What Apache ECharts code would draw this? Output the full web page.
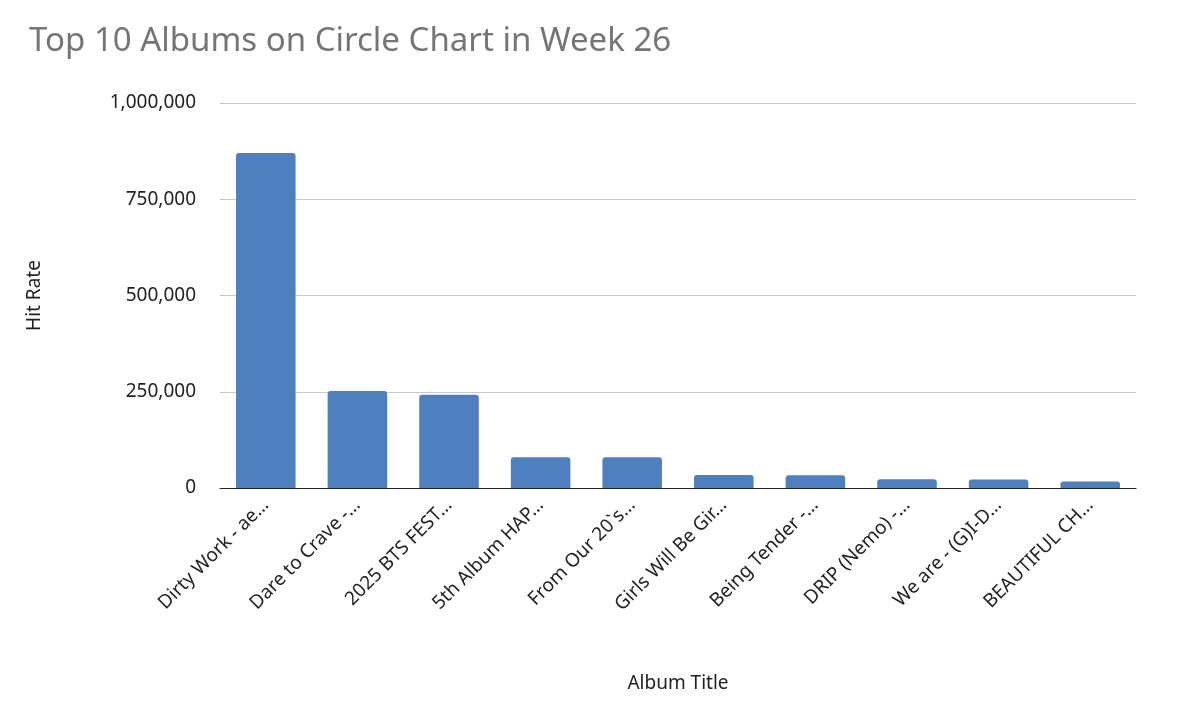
<!DOCTYPE html>
<html><head><meta charset="utf-8">
<script src="https://cdn.jsdelivr.net/npm/echarts@6/dist/echarts.min.js"></script>
<style>html,body{margin:0;padding:0;background:#fff}#c{width:1179px;height:720px}</style>
</head><body><div id="c"></div>
<script>
const categories = ["Dirty Work - ae…","Dare to Crave -…","2025 BTS FEST…","5th Album HAP…","From Our 20`s…","Girls Will Be Gir…","Being Tender -…","DRIP (Nemo) -…","We are - (G)I-D…","BEAUTIFUL CH…"];
const hitRate = [870000,252000,242000,80000,80000,34000,33000,23000,22000,17000];
const chart = echarts.init(document.getElementById('c'));
chart.setOption({
  animation:false,
  textStyle:{fontFamily:'Noto Sans'},
  title:{text:'Top 10 Albums on Circle Chart in Week 26',left:24,top:20,textStyle:{fontSize:33,fontWeight:'normal',color:'#757575',fontFamily:'Noto Sans'}},
  grid:{left:220,right:43,top:103,bottom:232},
  xAxis:{type:'category',data:categories,name:'Album Title',nameLocation:'middle',nameGap:186,
    nameTextStyle:{fontSize:19,color:'#222'},
    axisLine:{lineStyle:{color:'#222'}},axisTick:{show:false},
    axisLabel:{rotate:45,fontSize:19,color:'#222',margin:14,interval:0}},
  yAxis:{type:'value',min:0,max:1000000,interval:250000,name:'Hit Rate',nameLocation:'middle',nameGap:176,
    nameTextStyle:{fontSize:19,color:'#222'},
    axisLabel:{fontSize:19,color:'#222',margin:24,formatter:v=>v.toLocaleString('en-US')},
    splitLine:{lineStyle:{color:'#c8c8c8'}}},
  series:[{type:'bar',data:hitRate,barWidth:'65%',itemStyle:{color:'#4e7fbf',borderRadius:[3,3,0,0]}}]
});
</script></body></html>
